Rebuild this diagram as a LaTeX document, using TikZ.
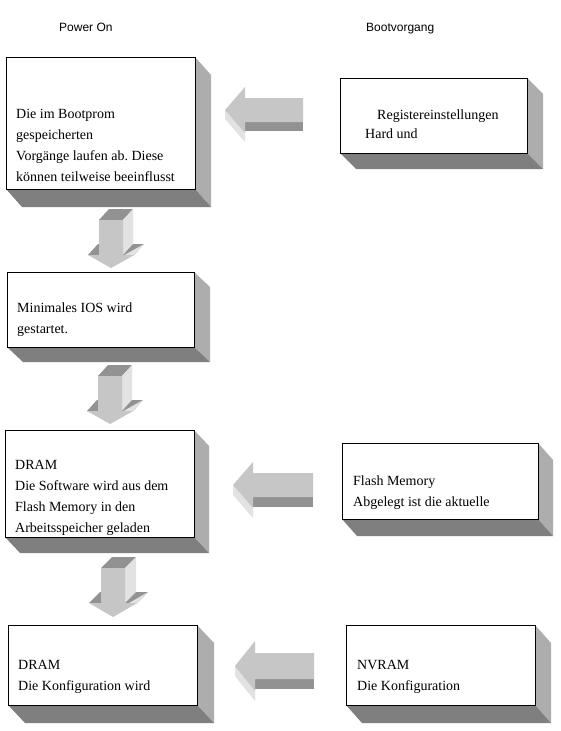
\documentclass[tikz,border=0pt]{standalone}
\usepackage{fontspec}
\setmainfont{Liberation Serif}
\newfontfamily\sansf{Liberation Sans}
\frenchspacing
\definecolor{sidegray}{HTML}{ADADAD}
\definecolor{botgray}{HTML}{7F7F7F}
\definecolor{arrfront}{HTML}{C6C6C6}
\definecolor{arrdark}{HTML}{929292}
\definecolor{arrlight}{HTML}{E2E2E2}
\tikzset{
  frontbox/.style={draw=black, fill=white, line width=0.9pt, inner sep=0pt, outer sep=0pt},
  boxtext/.style={anchor=north west, align=left, inner sep=0pt, font=\frenchspacing\fontsize{14}{21}\selectfont},
  titletext/.style={anchor=base west, inner sep=0pt, font=\sansf\fontsize{12}{14}\selectfont}
}
% 3D box: name x1 y1 x2 y2 dx dy
\newcommand\tdbox[7]{%
  \fill[sidegray] (#4,#3) -- ({#4+#6},{#3+#7}) -- ({#4+#6},{#5+#7}) -- (#4,#5) -- cycle;
  \fill[botgray] (#2,#5) -- (#4,#5) -- ({#4+#6},{#5+#7}) -- ({#2+#6},{#5+#7}) -- cycle;
  \node[frontbox, minimum width={#4-#2}, minimum height={#5-#3}, anchor=north west] (#1) at (#2,#3) {};
}
% 3D down arrow: xl xr ytop yhead ytip halfhead dx dy
\newcommand\dblockarrow[8]{%
  \pgfmathsetmacro\acx{(#1+#2)/2}
  \fill[arrdark] (#1,#3) -- (#2,#3) -- ({#2+#7},{#3+#8}) -- ({#1+#7},{#3+#8}) -- cycle;
  \fill[arrlight] (#2,#3) -- ({#2+#7},{#3+#8}) -- ({#2+#7},{#4+#8}) -- (#2,#4) -- cycle;
  \fill[arrdark] ({\acx-#6},#4) -- (#1,#4) -- ({#1+#7},{#4+#8}) -- ({\acx-#6+#7},{#4+#8}) -- cycle;
  \fill[arrdark] (#2,#4) -- ({\acx+#6},#4) -- ({\acx+#6+#7},{#4+#8}) -- ({#2+#7},{#4+#8}) -- cycle;
  \fill[arrlight] ({\acx+#6},#4) -- (\acx,#5) -- ({\acx+#7},{#5+#8}) -- ({\acx+#6+#7},{#4+#8}) -- cycle;
  \fill[arrfront] (#1,#3) -- (#2,#3) -- (#2,#4) -- ({\acx+#6},#4) -- (\acx,#5) -- ({\acx-#6},#4) -- (#1,#4) -- cycle;
}
% 3D left arrow: xtip xhead xright ycenter halfshaft halfhead depth
\newcommand\lblockarrow[7]{%
  \fill[arrdark] (#2,{#4+#5}) -- (#3,{#4+#5}) -- (#3,{#4+#5+#7}) -- (#2,{#4+#5+#7}) -- cycle;
  \fill[arrlight] (#1,#4) -- (#2,{#4+#6}) -- (#2,{#4+#6+#7}) -- (#1,{#4+#7}) -- cycle;
  \fill[arrfront] (#1,#4) -- (#2,{#4-#6}) -- (#2,{#4-#5}) -- (#3,{#4-#5}) -- (#3,{#4+#5}) -- (#2,{#4+#5}) -- (#2,{#4+#6}) -- cycle;
}
\begin{document}
\begin{tikzpicture}[x=1pt,y=-1pt]
\useasboundingbox[fill=white] (0,0) rectangle (560,731);

\node[titletext] (p1) at (59,31) {Power On};
\node[titletext] (p2) at (366,31) {Bootvorgang};

\tdbox{b1}{6}{57}{195}{189}{16}{18}
\tdbox{b2}{340}{78}{527}{153}{16}{16}
\tdbox{b3}{7}{272}{194}{347}{16}{15}
\tdbox{b4}{5}{430}{194}{537}{15}{16}
\tdbox{b5}{342}{443}{538}{519}{15}{17}
\tdbox{b6}{8}{625}{197}{705}{17}{18}
\tdbox{b7}{346}{625}{535}{705}{16}{18}

\dblockarrow{99}{123}{220}{255}{268}{23}{10}{-11}
\dblockarrow{98}{122}{376}{411}{424}{23}{10}{-11}
\dblockarrow{101}{125}{568}{603}{617}{24}{11}{-11}

\lblockarrow{225}{245}{303}{110}{12}{23}{9}
\lblockarrow{233}{253}{313}{485}{12}{23}{10}
\lblockarrow{235}{255}{314}{666}{13}{25}{10}

\node[boxtext] (t1) at (16,103.3) {\strut Die im Bootprom\\gespeicherten\\Vorgänge laufen ab. Diese\\können teilweise beeinflusst};
\node[boxtext, font=\frenchspacing\fontsize{14}{19}\selectfont] (t2) at (365,105.7) {\strut\hspace*{12pt}Registereinstellungen\\Hard und};
\node[boxtext] (t3) at (17,297.3) {\strut Minimales IOS wird\\gestartet.};
\node[boxtext] (t4) at (15,454.3) {\strut DRAM\\Die Software wird aus dem\\Flash Memory in den\\Arbeitsspeicher geladen};
\node[boxtext] (t5) at (353,470.3) {\strut Flash Memory\\Abgelegt ist die aktuelle};
\node[boxtext] (t6) at (18,654.8) {\strut DRAM\\Die Konfiguration wird};
\node[boxtext] (t7) at (357,654.8) {\strut NVRAM\\Die Konfiguration};
\end{tikzpicture}
\end{document}
